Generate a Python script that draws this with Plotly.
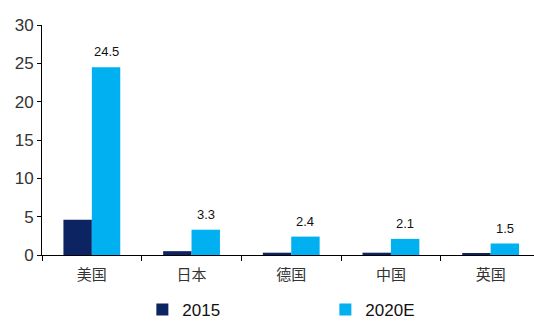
import plotly.graph_objects as go

categories = ["美国", "日本", "德国", "中国", "英国"]
values_2015 = [4.6, 0.5, 0.3, 0.3, 0.2]
values_2020e = [24.5, 3.3, 2.4, 2.1, 1.5]
y_ticks = [0, 5, 10, 15, 20, 25, 30]

navy = "#0C2461"
sky = "#00B0F0"

fig = go.Figure()
fig.add_trace(go.Bar(name="2015", x=categories, y=values_2015, marker_color=navy,
                     marker_line_width=0))
fig.add_trace(go.Bar(name="2020E", x=categories, y=values_2020e, marker_color=sky,
                     marker_line_width=0))

for c, v in zip(categories, values_2020e):
    fig.add_annotation(x=c, y=v, xref="x", yref="y", text=f"{v:.1f}", showarrow=False,
                       xshift=14.2, yanchor="bottom", yshift=6,
                       font=dict(family="Liberation Sans, Arial", size=13, color="#111111"))

fig.update_layout(
    width=534, height=322,
    margin=dict(l=42, r=0, t=25, b=67, autoexpand=False),
    paper_bgcolor="white", plot_bgcolor="white",
    barmode="group", bargap=0.43, bargroupgap=0,
    showlegend=True,
    legend=dict(orientation="h", x=0.204, xanchor="left", y=-0.239, yanchor="middle",
                font=dict(family="Liberation Sans, Arial", size=17, color="#111111"),
                entrywidth=138, entrywidthmode="pixels", itemclick=False,
                bgcolor="rgba(0,0,0,0)"),
    xaxis=dict(range=[-0.5, 4.435], showline=True, linecolor="black", linewidth=1,
               ticks="outside", tickson="boundaries", ticklen=5, tickcolor="black",
               showgrid=False, zeroline=False, ticklabelstandoff=6,
               tickfont=dict(family="Noto Sans CJK SC", size=15, color="#333333")),
    yaxis=dict(range=[0, 30], tickvals=y_ticks, showline=True, linecolor="black", linewidth=1,
               ticks="outside", ticklen=4, tickcolor="black", showgrid=False, zeroline=False,
               tickfont=dict(family="Liberation Sans, Arial", size=17, color="#333333")),
)

fig.write_html("out.html")
